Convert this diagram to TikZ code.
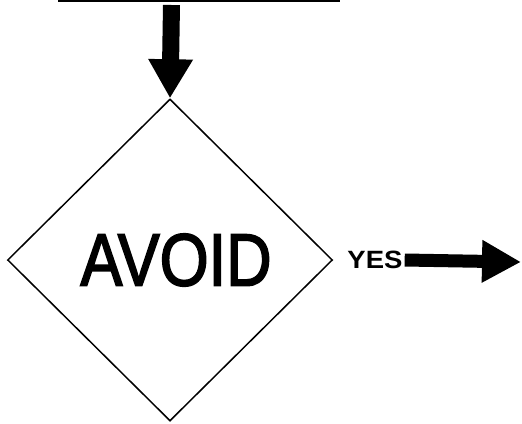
\documentclass[tikz,border=0pt]{standalone}
\usepackage{fontspec}
\setmainfont{Liberation Sans}
\newfontfamily\heavyfont{Liberation Sans}[FakeBold=2.5]
\usetikzlibrary{arrows.meta,positioning,shapes.geometric}

\begin{document}
\begin{tikzpicture}[x=1pt,y=-1pt,>=Latex]
  \tikzstyle{decision}=[draw,diamond,line width=1.5pt,inner sep=0pt,minimum width=325pt,minimum height=322pt,font=\heavyfont\fontsize{74}{74}\selectfont]
  \tikzstyle{fatarrow}=[line cap=butt]
  \useasboundingbox (0,0) rectangle (522,423);
  \coordinate (barL) at (58,1);
  \coordinate (barR) at (340,1);
  \coordinate (src) at (171.5,5);
  \node[decision] (avoid) at (170,260) {\hspace*{12pt}\scalebox{0.85}[1]{AVOID}};
  \node[right=12pt of avoid.east,inner sep=2pt,font=\bfseries\fontsize{25}{25}\selectfont] (yes) {\scalebox{1.1}[1]{YES}};
  \coordinate (out) at (521,262);
  \draw[line width=1.5pt] (barL) -- (barR);
  \draw[fatarrow,line width=17pt,-{Triangle[width=42pt,length=39pt]}] (src) -- (avoid.north);
  \draw[fatarrow,line width=13pt,-{Triangle[width=40pt,length=39pt]}] (yes.east) -- (out);
\end{tikzpicture}
\end{document}
